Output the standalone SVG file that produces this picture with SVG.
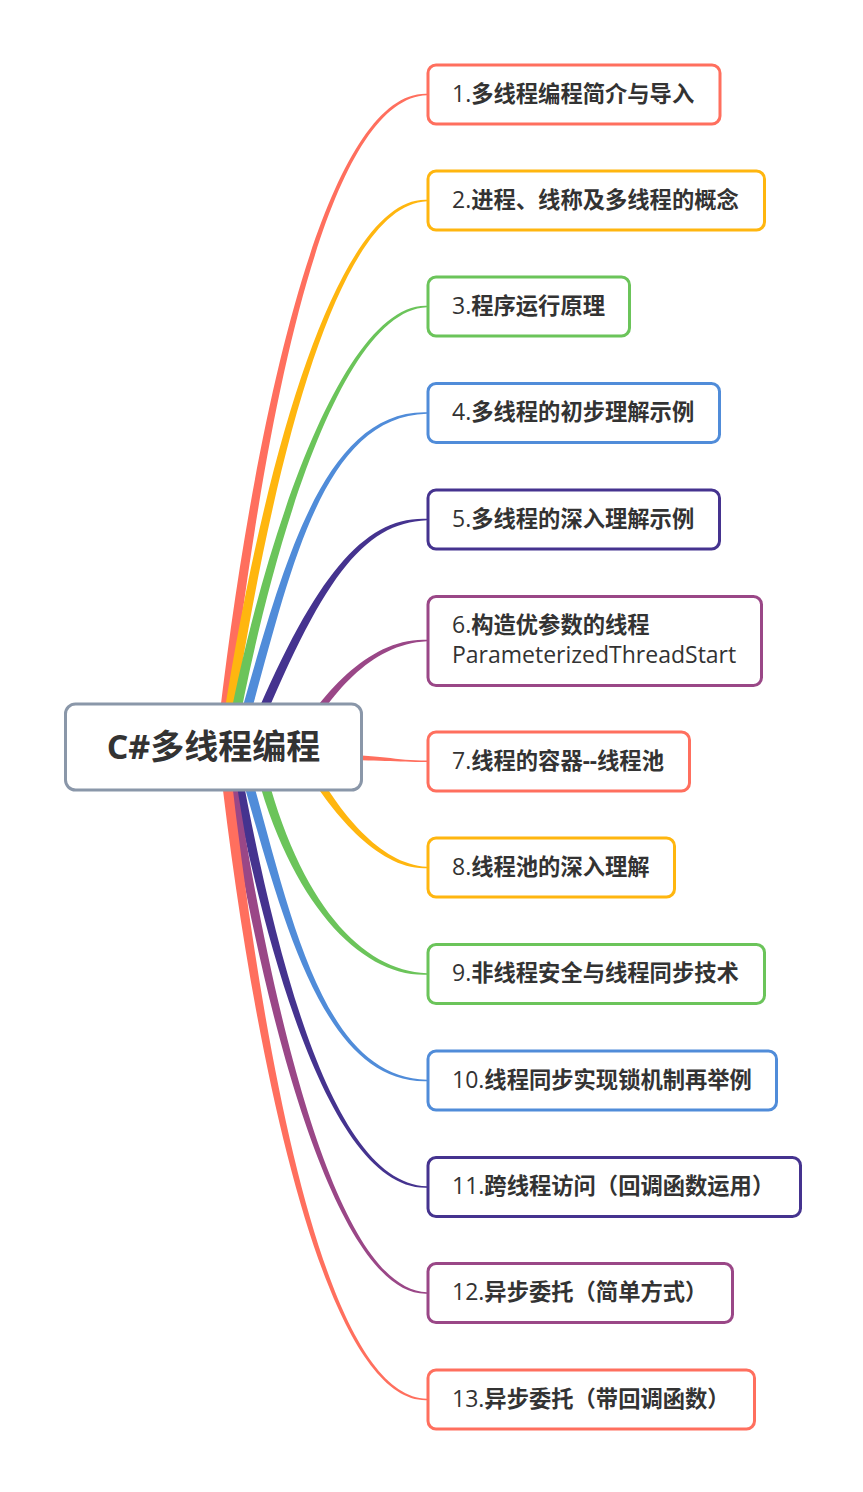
<svg xmlns="http://www.w3.org/2000/svg" width="863" height="1492" viewBox="0 0 863 1492">
<style>
.node rect{fill:#ffffff;stroke-width:3}
.t{font-family:"Open Sans","Noto Sans CJK SC",sans-serif;font-size:23px;fill:#333333}
.b{font-weight:bold;font-size:22.3px}
.n{font-weight:normal}
.c1{fill:#FF6F5E}.s1{stroke:#FF6F5E}
.c2{fill:#FFB60F}.s2{stroke:#FFB60F}
.c3{fill:#6BC45A}.s3{stroke:#6BC45A}
.c4{fill:#508CD9}.s4{stroke:#508CD9}
.c5{fill:#45338F}.s5{stroke:#45338F}
.c6{fill:#9A4787}.s6{stroke:#9A4787}
</style>
<rect width="863" height="1492" fill="#ffffff"/>
<g id="connectors">
<path class="c1" d="M216,747 C250,440 322,90.5 427,93.8 L427,95.2 C322,98.5 260,440 226,747 Z"/>
<path class="c2" d="M219,747 C264,447 340,196.5 427,199.8 L427,201.2 C340,204.5 274,447 229,747 Z"/>
<path class="c3" d="M224.5,747 C260.5,547 342,303 427,305.8 L427,307.2 C342,310 270.5,547 234.5,747 Z"/>
<path class="c4" d="M231,747 C276,597 314,409.5 427,412.3 L427,413.7 C314,416.5 286,597 241,747 Z"/>
<path class="c5" d="M243,747 C311,580 362,516 427,518.8 L427,520.2 C362,523 321,580 253,747 Z"/>
<path class="c6" d="M290,747 C320,695 370,637 427,639.8 L427,641.2 C370,644 330,695 300,747 Z"/>
<path class="c1" d="M330,754.5 C380,754.5 395,760.6 427,760.6 L427,762 C395,762 380,760 330,760 Z"/>
<path class="c2" d="M294,747 C320,800 375,871 427,868.2 L427,866.8 C375,864 330,800 304,747 Z"/>
<path class="c3" d="M250,747 C285,900 360,977.5 427,974.7 L427,973.3 C360,970.5 295,900 260,747 Z"/>
<path class="c4" d="M233,747 C278,897 316,1084 427,1081.2 L427,1079.8 C316,1077 288,897 243,747 Z"/>
<path class="c5" d="M227,747 C263,947 330,1190.5 427,1187.7 L427,1186.3 C330,1183.5 273,947 237,747 Z"/>
<path class="c6" d="M221,747 C266,1047 342,1296.5 427,1293.7 L427,1292.3 C342,1289.5 276,1047 231,747 Z"/>
<path class="c1" d="M218,747 C252,1054 324,1403 427,1400.2 L427,1398.8 C324,1396 262,1054 228,747 Z"/>
</g>
<g id="root">
<rect x="65.5" y="704" width="296" height="86" rx="10" fill="#ffffff" stroke="#8A97A9" stroke-width="3"/>
<text x="213.5" y="759" text-anchor="middle" font-family="'Open Sans','Noto Sans CJK SC',sans-serif" font-size="34" font-weight="bold" fill="#333333">C#多线程编程</text>
</g>
<g id="n1" class="node"><rect class="s1" x="428" y="65" width="292" height="59" rx="8"/><text class="t" x="452" y="101.5"><tspan class="n">1.</tspan><tspan class="b">多线程编程简介与导入</tspan></text></g>
<g id="n2" class="node"><rect class="s2" x="428" y="171" width="336.5" height="59" rx="8"/><text class="t" x="452" y="207.5"><tspan class="n">2.</tspan><tspan class="b">进程、线称及多线程的概念</tspan></text></g>
<g id="n3" class="node"><rect class="s3" x="428" y="277" width="201.5" height="59" rx="8"/><text class="t" x="452" y="313.5"><tspan class="n">3.</tspan><tspan class="b">程序运行原理</tspan></text></g>
<g id="n4" class="node"><rect class="s4" x="428" y="383.5" width="291.5" height="59" rx="8"/><text class="t" x="452" y="420"><tspan class="n">4.</tspan><tspan class="b">多线程的初步理解示例</tspan></text></g>
<g id="n5" class="node"><rect class="s5" x="428" y="490" width="291.5" height="59" rx="8"/><text class="t" x="452" y="526.5"><tspan class="n">5.</tspan><tspan class="b">多线程的深入理解示例</tspan></text></g>
<g id="n6" class="node"><rect class="s6" x="428" y="596.5" width="333.5" height="89" rx="8"/><text class="t" x="452" y="633"><tspan class="n">6.</tspan><tspan class="b">构造优参数的线程</tspan></text><text class="t" x="452" y="663">ParameterizedThreadStart</text></g>
<g id="n7" class="node"><rect class="s1" x="428" y="732" width="261.5" height="59" rx="8"/><text class="t" x="452" y="768.5"><tspan class="n">7.</tspan><tspan class="b">线程的容器--线程池</tspan></text></g>
<g id="n8" class="node"><rect class="s2" x="428" y="838" width="246.5" height="59" rx="8"/><text class="t" x="452" y="874.5"><tspan class="n">8.</tspan><tspan class="b">线程池的深入理解</tspan></text></g>
<g id="n9" class="node"><rect class="s3" x="428" y="944.5" width="336.5" height="59" rx="8"/><text class="t" x="452" y="981"><tspan class="n">9.</tspan><tspan class="b">非线程安全与线程同步技术</tspan></text></g>
<g id="n10" class="node"><rect class="s4" x="428" y="1051" width="348.5" height="59" rx="8"/><text class="t" x="452" y="1087.5"><tspan class="n">10.</tspan><tspan class="b">线程同步实现锁机制再举例</tspan></text></g>
<g id="n11" class="node"><rect class="s5" x="428" y="1157.5" width="372.5" height="59" rx="8"/><text class="t" x="452" y="1194"><tspan class="n">11.</tspan><tspan class="b">跨线程访问（回调函数运用）</tspan></text></g>
<g id="n12" class="node"><rect class="s6" x="428" y="1263.5" width="304.5" height="59" rx="8"/><text class="t" x="452" y="1300"><tspan class="n">12.</tspan><tspan class="b">异步委托（简单方式）</tspan></text></g>
<g id="n13" class="node"><rect class="s1" x="428" y="1370" width="326.5" height="59" rx="8"/><text class="t" x="452" y="1406.5"><tspan class="n">13.</tspan><tspan class="b">异步委托（带回调函数）</tspan></text></g>
</svg>
